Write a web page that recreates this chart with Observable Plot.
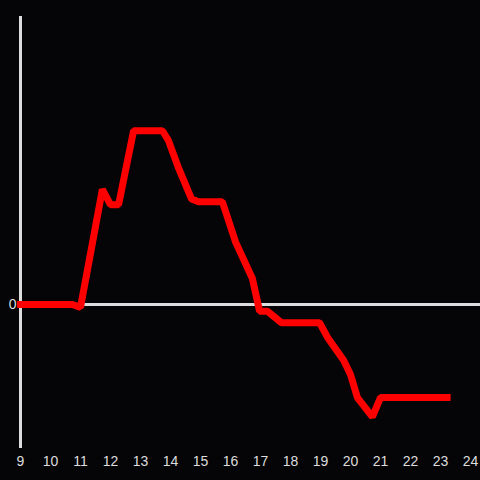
<!DOCTYPE html>
<html>
<head>
<meta charset="utf-8">
<script src="https://cdn.jsdelivr.net/npm/d3@7"></script>
<script src="https://cdn.jsdelivr.net/npm/@observablehq/plot@0.6"></script>
<style>
  html, body { margin: 0; padding: 0; background: #050407; }
  #chart { width: 480px; height: 480px; }
  #chart svg text { font-size: 14px !important; font-family: "Liberation Sans", Arial, sans-serif !important; fill: #dddddd; }
</style>
</head>
<body>
<div id="chart"></div>
<script>
const hours = [9, 10.73, 11.0, 11.73, 12.0, 12.27, 12.77, 13.73, 13.93, 14.27, 14.7, 14.93, 15.73, 16.17, 16.73, 16.97, 17.23, 17.7, 18.97, 19.23, 19.77, 20.0, 20.23, 20.73, 21.0, 23.22];
const values = [0, 0, -0.3, 12.0, 10.4, 10.4, 18.1, 18.1, 17.1, 14.2, 11.0, 10.7, 10.7, 6.5, 2.7, -0.7, -0.7, -1.9, -1.9, -3.4, -5.8, -7.3, -9.7, -11.7, -9.7, -9.7];
const xTicks = [9, 10, 11, 12, 13, 14, 15, 16, 17, 18, 19, 20, 21, 22, 23, 24];
const yTicks = [0];

const data = hours.map((h, i) => ({h, v: values[i]}));

const chart = Plot.plot({
  width: 480,
  height: 480,
  marginLeft: 20,
  marginRight: 0,
  marginTop: 16,
  marginBottom: 32,
  style: {background: "#050407", color: "#dddddd", fontFamily: "Liberation Sans, Arial, sans-serif"},
  x: {domain: [9, 24], range: [20, 470], label: null},
  y: {domain: [-15, 30], label: null},
  marks: [
    Plot.axisX(xTicks, {tickSize: 0, tickPadding: 8, fontSize: 14, fill: "#dddddd", tickFormat: d => String(d), label: null}),
    Plot.axisY(yTicks, {tickSize: 0, tickPadding: 4, fontSize: 14, fill: "#dddddd", label: null}),
    Plot.ruleX([9], {stroke: "#dddddd", strokeWidth: 3}),
    Plot.ruleY([0], {stroke: "#dddddd", strokeWidth: 3}),
    Plot.line(data, {x: "h", y: "v", stroke: "#ff0000", strokeWidth: 7, strokeLinejoin: "miter", strokeLinecap: "square"})
  ]
});
document.getElementById("chart").appendChild(chart);
</script>
</body>
</html>
